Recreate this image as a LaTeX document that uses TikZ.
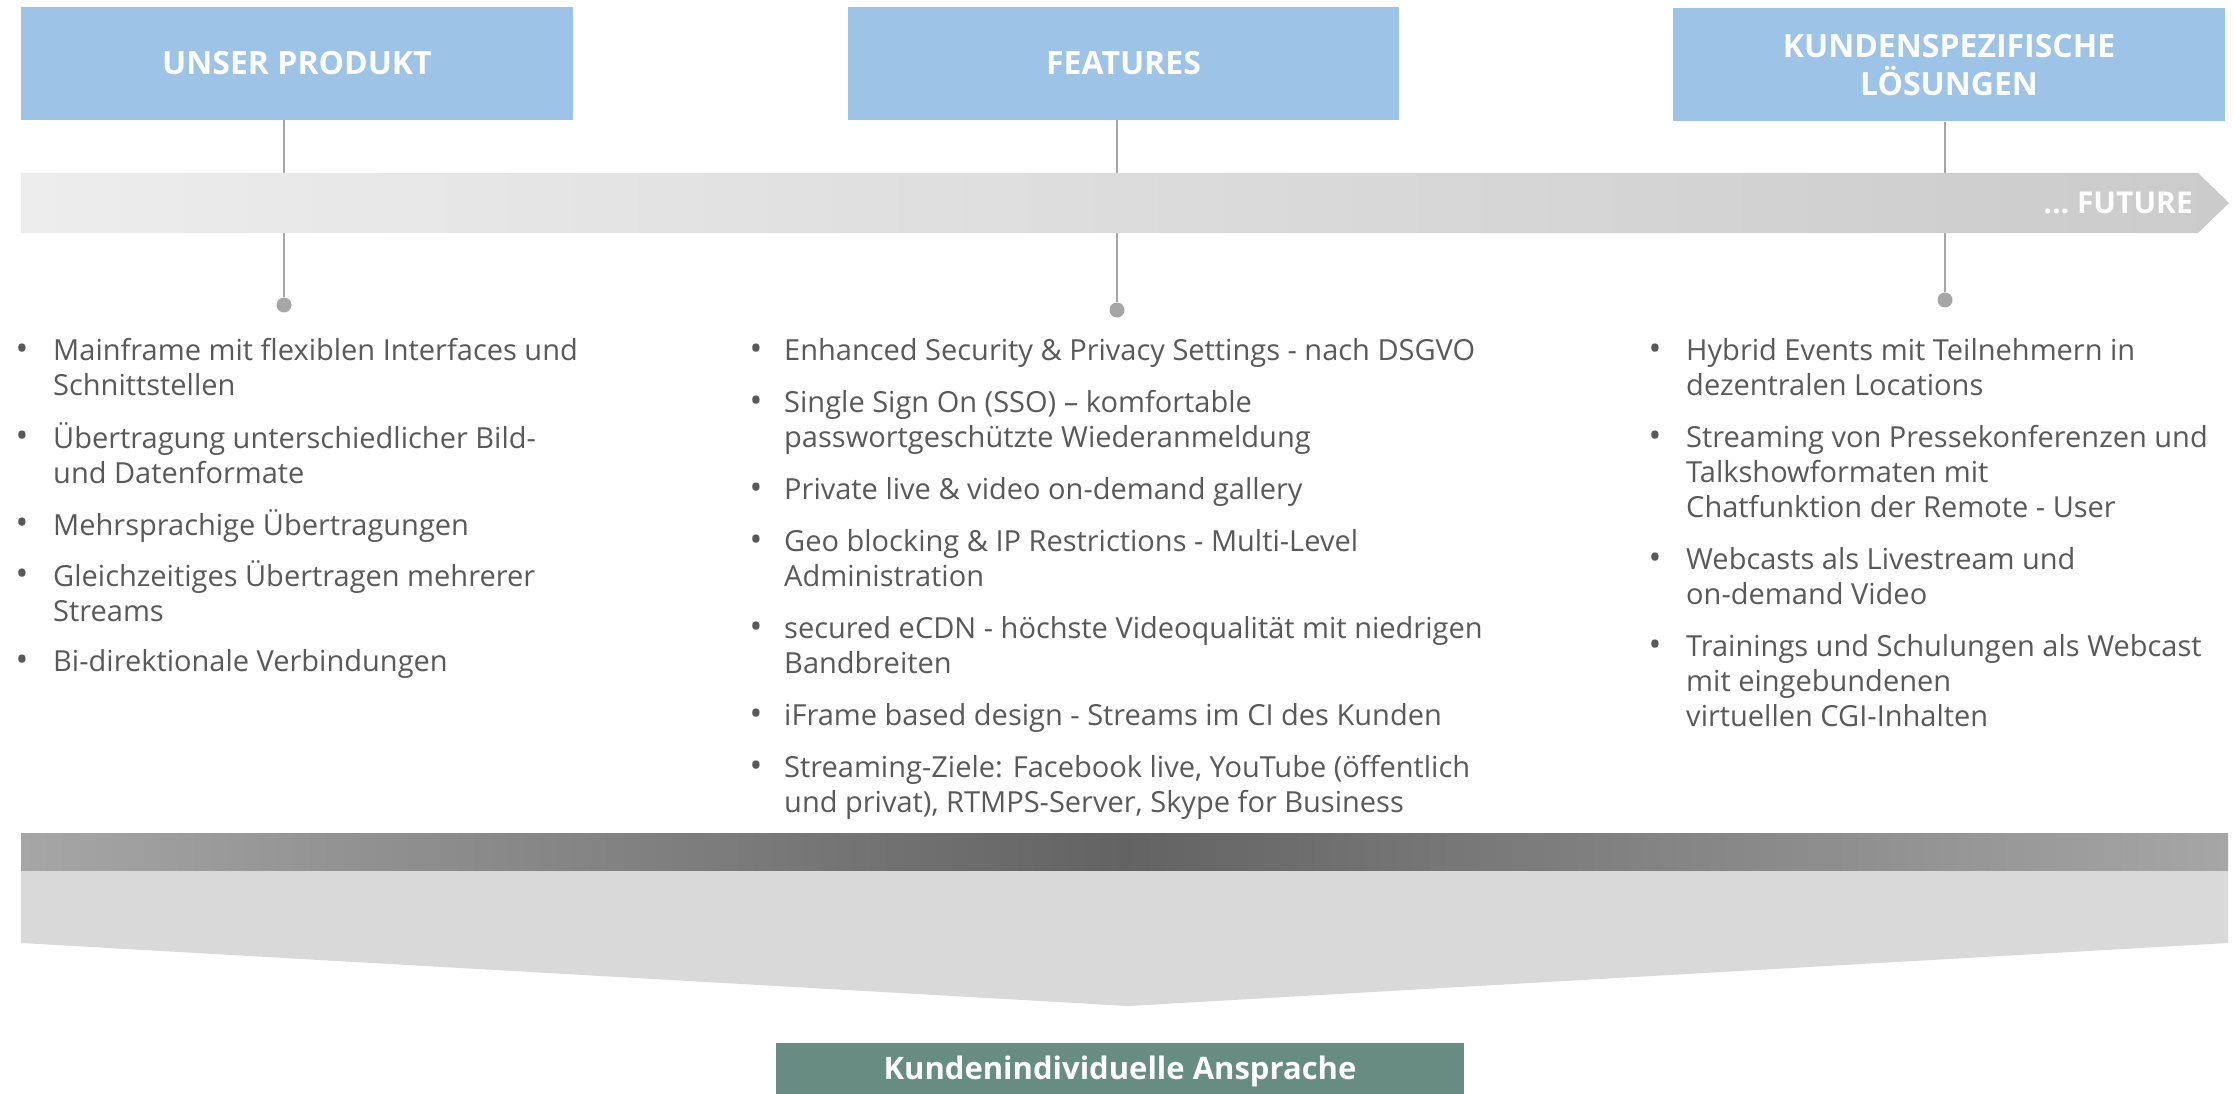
\documentclass[tikz,border=0pt]{standalone}
\usepackage{fontspec}
\setmainfont{Open Sans}
\definecolor{hblue}{HTML}{9DC3E6}
\definecolor{linegray}{HTML}{A6A6A6}
\definecolor{bodygray}{HTML}{595959}
\definecolor{barL}{HTML}{EDEDED}
\definecolor{barR}{HTML}{CBCBCB}
\definecolor{darkE}{HTML}{A6A6A6}
\definecolor{darkM}{HTML}{636363}
\definecolor{chev}{HTML}{D9D9D9}
\definecolor{sgreen}{HTML}{678C82}
\tikzset{
  hbox/.style={fill=hblue, inner sep=0pt, minimum width=552pt, minimum height=113pt,
    text=white, align=center, font=\bfseries\fontsize{32}{38}\selectfont},
  conn/.style={draw=linegray, line width=2pt},
  dot/.style={circle, fill=linegray, inner sep=0pt, minimum size=15pt},
  item/.style={anchor=north west, inner sep=0pt, align=left, text=bodygray,
    font=\fontsize{29}{35}\selectfont},
  bul/.style={anchor=base, inner sep=0pt, text=bodygray, font=\fontsize{34}{35}\selectfont},
}
\newcommand{\lnx}[1]{\strut #1}
\begin{document}
\begin{tikzpicture}[x=1pt,y=-1pt]
\useasboundingbox (0,0) rectangle (2234,1094);
% header boxes
\node[hbox] (b1) at (297,63.5) {UNSER PRODUKT};
\node[hbox, minimum width=551pt] (b2) at (1123.5,63.5) {FEATURES};
\node[hbox] (b3) at (1949,65) {KUNDENSPEZIFISCHE\\LÖSUNGEN};
% dots
\node[dot] (d1) at (284,305) {};
\node[dot] (d2) at (1117,310) {};
\node[dot] (d3) at (1945,300) {};
\draw[conn] (b1.south -| d1) -- (d1);
\draw[conn] (b2.south -| d2) -- (d2);
\draw[conn] (b3.south -| d3) -- (d3);
% timeline arrow
\shade[left color=barL, right color=barR]
  (21,173) -- (2198,173) -- (2229,203) -- (2198,233) -- (21,233) -- cycle;
\node[anchor=base east, inner sep=0pt, text=white, font=\bfseries\fontsize{30}{32}\selectfont]
  (fut) at (2193,214) {\dots\ FUTURE};
% column 1
\foreach \n/\y/\t in {
  c1a/360/{\lnx{Mainframe mit flexiblen Interfaces und}\\\lnx{Schnittstellen}},
  c1b/447/{\lnx{Übertragung unterschiedlicher Bild-}\\\lnx{und Datenformate}},
  c1c/534/{\lnx{Mehrsprachige Übertragungen}},
  c1d/585/{\lnx{Gleichzeitiges Übertragen mehrerer}\\\lnx{Streams}},
  c1e/671/{\lnx{Bi-direktionale Verbindungen}}}{
  \node[bul] (\n-b) at (22,\y) {•};
  \node[item] (\n) at (53,\y-24.5) {\t};
}
% column 2
\foreach \n/\y/\t in {
  c2a/360/{\lnx{Enhanced Security \& Privacy Settings - nach DSGVO}},
  c2b/412/{\lnx{Single Sign On (SSO) – komfortable}\\\lnx{passwortgeschützte Wiederanmeldung}},
  c2c/499/{\lnx{Private live \& video on-demand gallery}},
  c2d/551/{\lnx{Geo blocking \& IP Restrictions - Multi-Level}\\\lnx{Administration}},
  c2e/638/{\lnx{secured eCDN - höchste Videoqualität mit niedrigen}\\\lnx{Bandbreiten}},
  c2f/725/{\lnx{iFrame based design - Streams im CI des Kunden}},
  c2g/777/{\lnx{Streaming-Ziele: Facebook live, YouTube (öffentlich}\\\lnx{und privat), RTMPS-Server, Skype for Business}}}{
  \node[bul] (\n-b) at (756,\y) {•};
  \node[item] (\n) at (784,\y-24.5) {\t};
}
% column 3
\foreach \n/\y/\t in {
  c3a/360/{\lnx{Hybrid Events mit Teilnehmern in}\\\lnx{dezentralen Locations}},
  c3b/447/{\lnx{Streaming von Pressekonferenzen und}\\\lnx{Talkshowformaten mit}\\\lnx{Chatfunktion der Remote - User}},
  c3c/569/{\lnx{Webcasts als Livestream und}\\\lnx{on-demand Video}},
  c3d/656/{\lnx{Trainings und Schulungen als Webcast}\\\lnx{mit eingebundenen}\\\lnx{virtuellen CGI-Inhalten}}}{
  \node[bul] (\n-b) at (1655,\y) {•};
  \node[item] (\n) at (1686,\y-24.5) {\t};
}
% bottom dark bar
\shade[left color=darkE, right color=darkE, middle color=darkM] (21,833) rectangle (2228,871);
% chevron
\fill[chev] (21,871) -- (2228,871) -- (2228,943) -- (1128,1006) -- (21,943) -- cycle;
% green box
\node[fill=sgreen, inner sep=0pt, minimum width=688pt, minimum height=57pt, anchor=north,
  text=white, font=\bfseries\fontsize{31}{34}\selectfont] (g) at (1120,1043)
  {Kundenindividuelle Ansprache};
\end{tikzpicture}
\end{document}
